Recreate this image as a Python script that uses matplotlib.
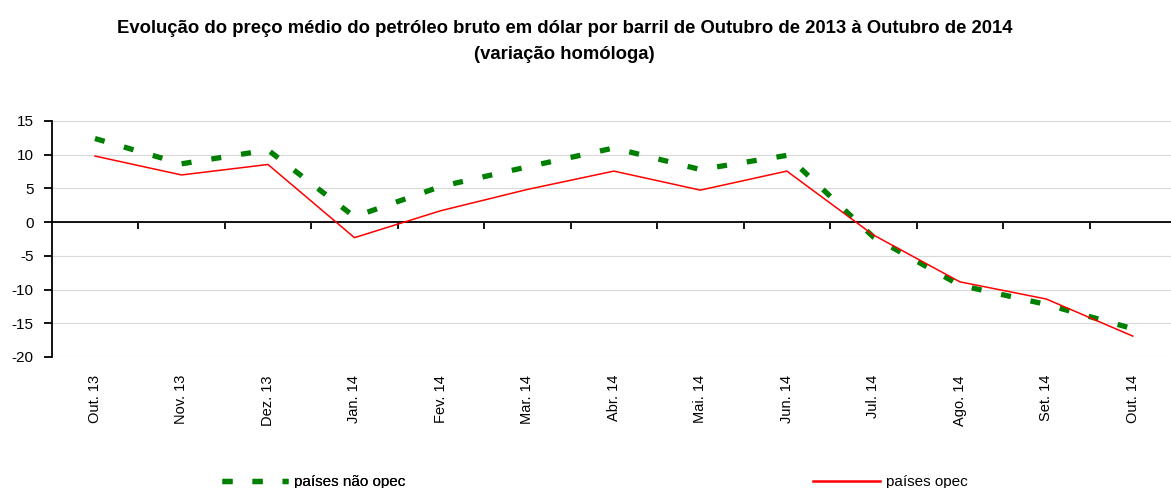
import matplotlib
matplotlib.use("Agg")
import matplotlib.pyplot as plt
from matplotlib.lines import Line2D
import numpy as np

plt.rcParams['font.family'] = ['Liberation Sans', 'DejaVu Sans']

categories = ["Out. 13", "Nov. 13", "Dez. 13", "Jan. 14", "Fev. 14", "Mar. 14", "Abr. 14",
              "Mai. 14", "Jun. 14", "Jul. 14", "Ago. 14", "Set. 14", "Out. 14"]
nao_opec = [12.4, 8.65, 10.7, 0.8, 5.3, 8.2, 11.0, 7.8, 9.9, -2.2, -9.35, -12.2, -15.8]
opec = [9.8, 7.0, 8.55, -2.3, 1.7, 4.85, 7.57, 4.75, 7.57, -1.9, -8.85, -11.4, -16.9]
yticks = [15, 10, 5, 0, -5, -10, -15, -20]
ytick_labels = ["15", "10", "5", "0", "-5", "-10", "-15", "-20"]

W, H = 1171, 488
fig = plt.figure(figsize=(W / 100, H / 100), dpi=100)
left, right, top, bottom = 51.75, 1176, 121, 357
ax = fig.add_axes([left / W, 1 - bottom / H, (right - left) / W, (bottom - top) / H])

x = np.arange(len(categories))
ax.plot(x, nao_opec, color="#008000", lw=3.8, linestyle=(0, (1.9, 3.8)),
        dash_capstyle="butt", zorder=3)
ax.plot(x, opec, color="#FF0000", lw=1.1, zorder=4)

ax.set_xlim(-0.5, len(categories) - 0.5)
ax.set_ylim(-20, 15)
ax.set_yticks(yticks, labels=ytick_labels)
ax.yaxis.grid(True, color="#d9d9d9", lw=0.8)
ax.set_axisbelow(True)
ax.axhline(0, color="black", lw=1.3, zorder=2)

for s in ["top", "right", "bottom"]:
    ax.spines[s].set_visible(False)
ax.spines["left"].set_linewidth(1.3)
ax.tick_params(axis="y", length=6, width=1.3, labelsize=11, pad=7)

ax.set_xticks(x, labels=categories, rotation=90)
ax.tick_params(axis="x", length=0, labelsize=10.5, pad=13)

sec = ax.secondary_xaxis(20 / 35)
sec.set_alignment("bottom")
sec.set_xticks(np.arange(0.5, len(categories) - 1, 1.0), labels=[""] * (len(categories) - 1))
sec.tick_params(axis="x", direction="out", length=5, width=1.3)
for s in sec.spines.values():
    s.set_visible(False)

fig.text(0.482, 1 - 33 / H, "Evolução do preço médio do petróleo bruto em dólar por barril de Outubro de 2013 à Outubro de 2014",
         ha="center", va="baseline", fontsize=13.3, fontweight="bold")
fig.text(0.482, 1 - 59 / H, "(variação homóloga)", ha="center", va="baseline", fontsize=13.3, fontweight="bold")

h1 = Line2D([], [], color="#008000", lw=3.8, linestyle=(0, (1.9, 3.8)), dash_capstyle="butt")
h2 = Line2D([], [], color="#FF0000", lw=1.8)
leg1 = fig.legend([h1], ["países não opec"], loc="center left", bbox_to_anchor=(222 / W, 1 - 482 / H),
                  frameon=False, fontsize=11, handlelength=4.3, handletextpad=0.4, borderpad=0, borderaxespad=0)
leg2 = fig.legend([h2], ["países opec"], loc="center left", bbox_to_anchor=(813 / W, 1 - 482 / H),
                  frameon=False, fontsize=11, handlelength=4.4, handletextpad=0.4, borderpad=0, borderaxespad=0)
fig.add_artist(leg1)

fig.savefig("out.png", dpi=100)
